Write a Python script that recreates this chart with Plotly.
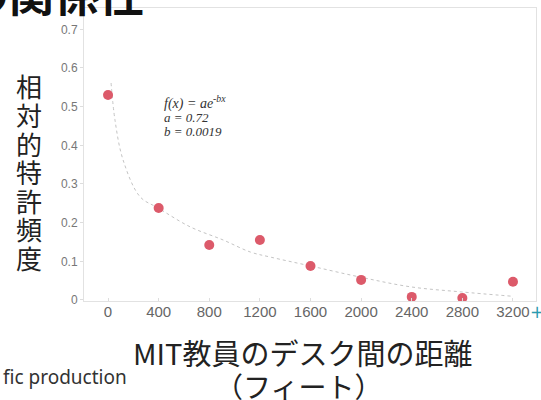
import plotly.graph_objects as go

# ---- data ----
distance_ft = [0, 400, 800, 1200, 1600, 2000, 2400, 2800, 3200]
rel_patent_freq = [0.53, 0.238, 0.142, 0.155, 0.088, 0.052, 0.008, 0.005, 0.047]

fit_x = [24, 55, 119, 253, 396, 650, 911, 1125, 1283, 1600, 1996, 2392, 2788, 3184]
fit_y = [0.561, 0.465, 0.362, 0.267, 0.238, 0.189, 0.155, 0.124, 0.111, 0.088, 0.059, 0.034, 0.021, 0.010]

x_ticks = [0, 400, 800, 1200, 1600, 2000, 2400, 2800, 3200]
y_ticks = [0, 0.1, 0.2, 0.3, 0.4, 0.5, 0.6, 0.7]
y_tick_labels = ["0", "0.1", "0.2", "0.3", "0.4", "0.5", "0.6", "0.7"]

y_title_chars = list("相対的特許頻度")
x_title_line1 = "MIT教員のデスク間の距離"
x_title_line2 = "（フィート）"
slide_title = "の関係性"
footer_text = "fic production"
formula_lines = ["<i>f(x) = ae<sup>-bx</sup></i>", "<i>a = 0.72</i>", "<i>b = 0.0019</i>"]

W, H = 541, 400
L, R, T, B = 84, 536, 8, 301


def px(x):
    return (x - L) / (R - L)


def py(y):
    return (B - y) / (B - T)


fig = go.Figure()
fig.add_trace(go.Scatter(
    x=fit_x, y=fit_y, mode="lines",
    line=dict(color="#c4c4c4", width=1, dash="dot", shape="spline"),
    hoverinfo="skip", showlegend=False))
fig.add_trace(go.Scatter(
    x=distance_ft, y=rel_patent_freq, mode="markers",
    marker=dict(color="#dc5a6a", size=10),
    showlegend=False))

ann = []
# slide title (cut off at top)
ann.append(dict(text="<b>" + slide_title + "</b>", x=px(146), y=py(-8),
                xanchor="right", yanchor="middle",
                font=dict(family="Noto Sans CJK JP", size=45, color="#111111")))
# vertical y title
for i, ch in enumerate(y_title_chars):
    ann.append(dict(text=ch, x=px(29), y=py(86 + i * 28.5),
                    xanchor="center", yanchor="middle",
                    font=dict(family="Noto Sans CJK JP", size=26, color="#222222")))
# x title
ann.append(dict(text=x_title_line1, x=px(302), y=py(352),
                xanchor="center", yanchor="middle",
                font=dict(family="Noto Sans CJK JP", size=29, color="#222222")))
ann.append(dict(text=x_title_line2, x=px(298), y=py(386),
                xanchor="center", yanchor="middle",
                font=dict(family="Noto Sans CJK JP", size=28, color="#222222")))
# footer
ann.append(dict(text=footer_text, x=px(129), y=py(377),
                xanchor="right", yanchor="middle",
                font=dict(family="Noto Sans", size=19, color="#333333")))
# teal plus
ann.append(dict(text="+", x=px(537), y=py(312),
                xanchor="center", yanchor="middle",
                font=dict(family="DejaVu Sans", size=17, color="#2a9bb0")))
# formula
for i, (line, yy, sz) in enumerate(zip(formula_lines, [102, 117, 131], [14, 13, 13])):
    ann.append(dict(text=line, x=px(162), y=py(yy),
                    xanchor="left", yanchor="middle",
                    font=dict(family="Liberation Serif", size=sz, color="#333333")))

for a in ann:
    a.update(xref="paper", yref="paper", showarrow=False)

fig.update_layout(
    width=W, height=H,
    margin=dict(l=L, r=W - R, t=T, b=H - B),
    paper_bgcolor="white", plot_bgcolor="white",
    annotations=ann,
    xaxis=dict(range=[-190, 3382], tickvals=x_ticks, showgrid=False, zeroline=False,
               showline=True, linecolor="#e2e2e2", linewidth=1, mirror=True,
               ticks="inside", ticklen=3, tickcolor="#dddddd",
               ticklabelstandoff=-3,
               tickfont=dict(family="Liberation Sans", size=15, color="#666666")),
    yaxis=dict(range=[-0.0026, 0.7551], tickvals=y_ticks, ticktext=y_tick_labels,
               showgrid=False, zeroline=False,
               showline=True, linecolor="#e2e2e2", linewidth=1, mirror=True,
               ticks="outside", ticklen=3, tickcolor="#dddddd",
               tickfont=dict(family="Liberation Sans", size=12, color="#777777")),
)

fig.write_html("out.html", config={"displayModeBar": False},
               post_script="document.body.style.margin='0';document.body.style.overflow='hidden';")
